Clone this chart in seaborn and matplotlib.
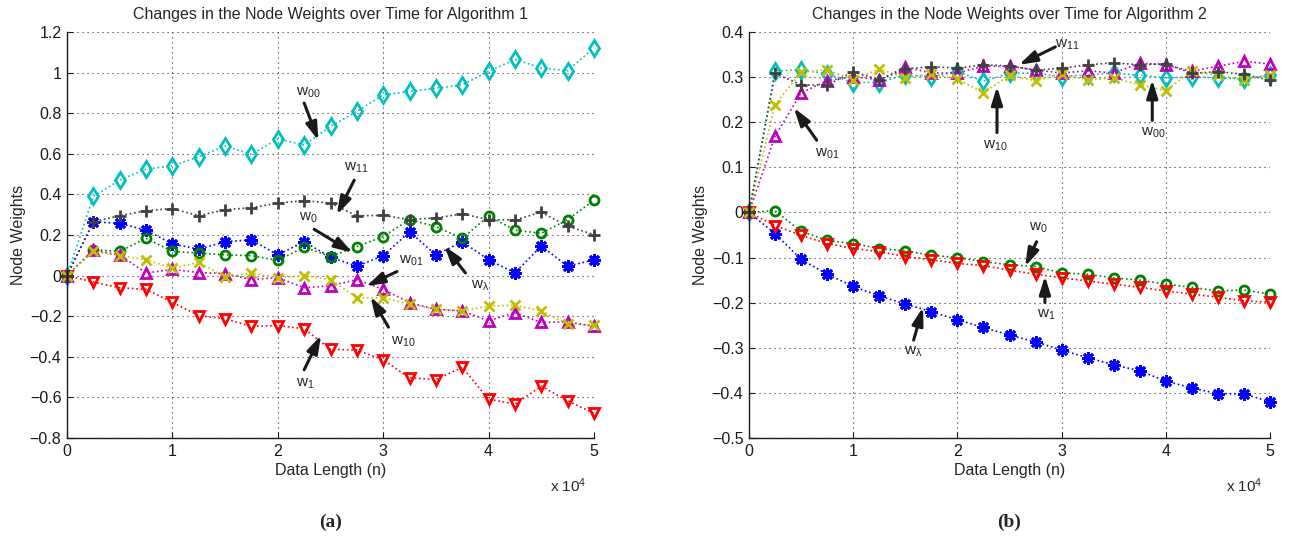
import numpy as np
import pandas as pd
import matplotlib
matplotlib.use("Agg")
import matplotlib.pyplot as plt
import seaborn as sns

# ---------------- data ----------------
data_length = [0, 2500, 5000, 7500, 10000, 12500, 15000, 17500, 20000, 22500, 25000,
               27500, 30000, 32500, 35000, 37500, 40000, 42500, 45000, 47500, 50000]

# Algorithm 1
w00_a = [0, 0.39, 0.47, 0.524, 0.541, 0.585, 0.638, 0.597, 0.673, 0.643, 0.735,
         0.809, 0.890, 0.907, 0.923, 0.939, 1.006, 1.065, 1.022, 1.009, 1.122]
w11_a = [0, 0.265, 0.295, 0.320, 0.330, 0.295, 0.325, 0.334, 0.357, 0.369, 0.357,
         0.294, 0.297, 0.276, 0.284, 0.304, 0.276, 0.274, 0.312, 0.243, 0.202]
w0_a = [0, 0.127, 0.119, 0.184, 0.119, 0.111, 0.102, 0.098, 0.075, 0.140, 0.094,
        0.143, 0.192, 0.276, 0.241, 0.184, 0.293, 0.224, 0.208, 0.276, 0.371]
wl_a = [0, 0.265, 0.257, 0.224, 0.156, 0.130, 0.167, 0.176, 0.102, 0.167, 0.091,
        0.046, 0.098, 0.216, 0.102, 0.167, 0.078, 0.013, 0.146, 0.046, 0.078]
w01_a = [0, 0.124, 0.102, 0.013, 0.030, 0.015, 0.010, -0.020, -0.010, -0.060, -0.050,
         -0.020, -0.068, -0.133, -0.166, -0.174, -0.223, -0.182, -0.231, -0.228, -0.250]
w10_a = [0, 0.119, 0.098, 0.078, 0.037, 0.065, -0.007, 0.013, -0.011, 0.0, -0.020,
         -0.109, -0.109, -0.141, -0.166, -0.174, -0.150, -0.146, -0.174, -0.239, -0.244]
w1_a = [0, -0.032, -0.060, -0.068, -0.132, -0.197, -0.213, -0.250, -0.246, -0.262, -0.363,
        -0.367, -0.415, -0.504, -0.512, -0.452, -0.609, -0.633, -0.545, -0.617, -0.679]

# Algorithm 2
w11_b = [0, 0.308, 0.283, 0.282, 0.312, 0.294, 0.318, 0.323, 0.320, 0.327, 0.325,
         0.315, 0.320, 0.327, 0.332, 0.327, 0.330, 0.308, 0.312, 0.306, 0.293]
w00_b = [0, 0.314, 0.316, 0.307, 0.288, 0.288, 0.305, 0.301, 0.312, 0.291, 0.308,
         0.309, 0.301, 0.305, 0.309, 0.304, 0.298, 0.301, 0.298, 0.296, 0.305]
w01_b = [0, 0.169, 0.265, 0.292, 0.301, 0.294, 0.322, 0.309, 0.309, 0.324, 0.324,
         0.316, 0.309, 0.314, 0.309, 0.331, 0.327, 0.313, 0.324, 0.335, 0.329]
w10_b = [0, 0.239, 0.311, 0.316, 0.294, 0.318, 0.298, 0.307, 0.296, 0.265, 0.304,
         0.292, 0.307, 0.294, 0.298, 0.283, 0.270, 0.313, 0.304, 0.294, 0.305]
w0_b = [0, 0.004, -0.042, -0.062, -0.069, -0.080, -0.085, -0.095, -0.100, -0.109, -0.116,
        -0.120, -0.134, -0.137, -0.145, -0.150, -0.159, -0.166, -0.174, -0.172, -0.181]
w1_b = [0, -0.029, -0.051, -0.069, -0.080, -0.087, -0.098, -0.105, -0.113, -0.118, -0.128,
        -0.137, -0.145, -0.152, -0.159, -0.166, -0.174, -0.181, -0.188, -0.196, -0.199]
wl_b = [0, -0.047, -0.104, -0.137, -0.164, -0.185, -0.203, -0.220, -0.238, -0.255, -0.272,
        -0.287, -0.305, -0.322, -0.338, -0.351, -0.374, -0.389, -0.402, -0.402, -0.420]

x_ticks = [0, 10000, 20000, 30000, 40000, 50000]
x_tick_labels = ["0", "1", "2", "3", "4", "5"]
y_ticks_a = [-0.8, -0.6, -0.4, -0.2, 0, 0.2, 0.4, 0.6, 0.8, 1.0, 1.2]
y_tick_labels_a = ["\u22120.8", "\u22120.6", "\u22120.4", "\u22120.2", "0", "0.2", "0.4",
                   "0.6", "0.8", "1", "1.2"]
y_ticks_b = [-0.5, -0.4, -0.3, -0.2, -0.1, 0, 0.1, 0.2, 0.3, 0.4]
y_tick_labels_b = ["\u22120.5", "\u22120.4", "\u22120.3", "\u22120.2", "\u22120.1", "0",
                   "0.1", "0.2", "0.3", "0.4"]

titles = ["Changes in the Node Weights over Time for Algorithm 1",
          "Changes in the Node Weights over Time for Algorithm 2"]
panel_labels = ["(a)", "(b)"]

# ---------------- style ----------------
sns.set_theme(style="white")
plt.rcParams["font.family"] = ["Liberation Sans", "DejaVu Sans"]
plt.rcParams["mathtext.fontset"] = "custom"
plt.rcParams["mathtext.rm"] = "Liberation Sans"
plt.rcParams["mathtext.it"] = "Liberation Sans:italic"
plt.rcParams["mathtext.bf"] = "Liberation Sans:bold"
plt.rcParams["mathtext.default"] = "regular"

CYAN = (0, 0.75, 0.75)
MAG = (0.75, 0, 0.75)
YEL = (0.75, 0.75, 0)
GREEN = (0, 0.5, 0)
RED = (1, 0, 0)
BLUE = (0, 0, 1)
GRAY = (0.25, 0.25, 0.25)
AST = (8, 2, 0)

series_style = {
    "w00": (CYAN, "d", True, 8),
    "wl": (BLUE, AST, False, 9),
    "w0": (GREEN, "o", True, 6.5),
    "w1": (RED, "v", True, 7.5),
    "w01": (MAG, "^", True, 7.5),
    "w10": (YEL, "x", False, 7.5),
    "w11": (GRAY, "+", False, 9),
}

fig = plt.figure(figsize=(12.92, 5.41), dpi=100)
ax_a = fig.add_axes([67 / 1292, 0.1904, 527 / 1292, 0.7505])
ax_b = fig.add_axes([749 / 1292, 0.1904, 521 / 1292, 0.7505])

def draw(ax, series):
    for name in ["w00", "wl", "w0", "w1", "w01", "w10", "w11"]:
        col, mk, hollow, ms = series_style[name]
        kw = dict(color=col, marker=mk, linestyle=":", linewidth=1.2,
                  markersize=ms, markeredgewidth=2.0, markeredgecolor=col,
                  clip_on=False)
        kw["markerfacecolor"] = "none" if hollow else col
        sns.lineplot(x=data_length, y=series[name], ax=ax, legend=False, **kw)

draw(ax_a, {"w00": w00_a, "wl": wl_a, "w0": w0_a, "w1": w1_a,
            "w01": w01_a, "w10": w10_a, "w11": w11_a})
draw(ax_b, {"w00": w00_b, "wl": wl_b, "w0": w0_b, "w1": w1_b,
            "w01": w01_b, "w10": w10_b, "w11": w11_b})

def style_axes(ax, yt, ytl, title, panel):
    ax.set_xlim(0, 50000)
    ax.set_ylim(yt[0], yt[-1])
    ax.set_xticks(x_ticks)
    ax.set_xticklabels(x_tick_labels, fontsize=11.5)
    ax.set_yticks(yt)
    ax.set_yticklabels(ytl, fontsize=11.5)
    ax.tick_params(direction="in", length=4, width=0.8, left=True, bottom=True,
                   top=False, right=False, pad=4, colors="k")
    ax.grid(True, linestyle=(0, (1, 3.5)), color="k", linewidth=0.8, alpha=0.9)
    for sp in ["top", "right"]:
        ax.spines[sp].set_visible(False)
    for sp in ["left", "bottom"]:
        ax.spines[sp].set_color("k")
        ax.spines[sp].set_linewidth(1.0)
    ax.set_title(title, fontsize=11.5, pad=9)
    ax.set_xlabel("Data Length (n)", fontsize=11.5, labelpad=3)
    ax.set_ylabel("Node Weights", fontsize=11.5, labelpad=3)
    ax.text(0.985, -0.095, "x 10$^{4}$", transform=ax.transAxes, ha="right", va="top",
            fontsize=11)
    ax.text(0.5, -0.207, panel, transform=ax.transAxes, ha="center", va="center",
            fontsize=14, fontweight="bold", family="Liberation Serif")

style_axes(ax_a, y_ticks_a, y_tick_labels_a, titles[0], panel_labels[0])
style_axes(ax_b, y_ticks_b, y_tick_labels_b, titles[1], panel_labels[1])

arrow_kw = dict(arrowstyle="-|>,head_length=0.9,head_width=0.28", color="k",
                lw=2.2, shrinkA=0, shrinkB=0)

def arrow(ax, tail, head):
    ax.annotate("", xy=head, xytext=tail, arrowprops=arrow_kw, zorder=10)

def label(ax, pos, txt):
    ax.text(pos[0], pos[1], txt, fontsize=11, ha="left", va="center", zorder=10)

# Algorithm 1 annotations (x in n)
label(ax_a, (21700, 0.90), "w$_{00}$")
arrow(ax_a, (22500, 0.85), (23850, 0.665))
label(ax_a, (26300, 0.53), "w$_{11}$")
arrow(ax_a, (27250, 0.47), (25600, 0.30))
label(ax_a, (22000, 0.285), "w$_{0}$")
arrow(ax_a, (23450, 0.228), (27100, 0.113))
label(ax_a, (31500, 0.075), "w$_{01}$")
arrow(ax_a, (31300, 0.02), (28400, -0.052))
label(ax_a, (38300, -0.05), "w$_{\u03bb}$")
arrow(ax_a, (37800, 0.013), (35800, 0.146))
label(ax_a, (30700, -0.325), "w$_{10}$")
arrow(ax_a, (30500, -0.254), (28800, -0.103))
label(ax_a, (21700, -0.535), "w$_{1}$")
arrow(ax_a, (22500, -0.464), (24100, -0.294))

# Algorithm 2 annotations
label(ax_b, (29400, 0.372), "w$_{11}$")
arrow(ax_b, (29400, 0.367), (25900, 0.327))
label(ax_b, (6300, 0.130), "w$_{01}$")
arrow(ax_b, (6500, 0.160), (4300, 0.232))
label(ax_b, (22500, 0.148), "w$_{10}$")
arrow(ax_b, (23800, 0.177), (23800, 0.279))
label(ax_b, (37600, 0.177), "w$_{00}$")
arrow(ax_b, (38700, 0.204), (38700, 0.294))
label(ax_b, (26900, -0.035), "w$_{0}$")
arrow(ax_b, (27600, -0.065), (26500, -0.12))
label(ax_b, (27600, -0.226), "w$_{1}$")
arrow(ax_b, (28400, -0.200), (28400, -0.141))
label(ax_b, (14900, -0.310), "w$_{\u03bb}$")
arrow(ax_b, (15800, -0.283), (16700, -0.21))

fig.savefig("out.png", dpi=100, facecolor="white")
